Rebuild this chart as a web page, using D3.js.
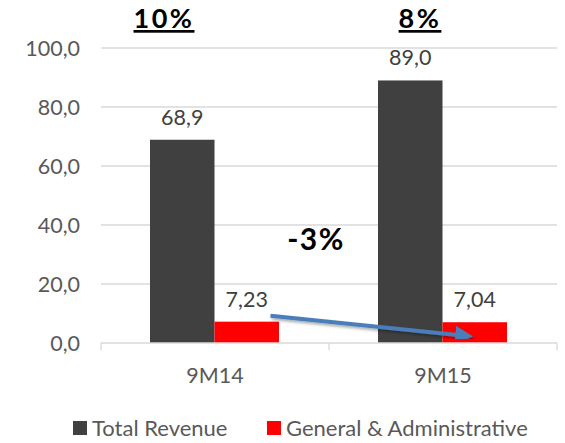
<!DOCTYPE html>
<html>
<head>
<meta charset="utf-8">
<script src="https://cdn.jsdelivr.net/npm/d3@7"></script>
<style>
  body { margin: 0; background: #fff; }
  svg { font-family: Lato, "Open Sans", sans-serif; }
</style>
</head>
<body>
<svg id="chart" width="565" height="443"></svg>
<script>
// data
categories = ["9M14", "9M15"]
seriesNames = ["Total Revenue", "General & Administrative"]
seriesColors = ["#404040", "#ff0000"]
totalRevenue = [68.9, 89.0]
generalAdmin = [7.23, 7.04]
revenueLabels = ["68,9", "89,0"]
gaLabels = ["7,23", "7,04"]
ratioLabels = ["10%", "8%"]
changeLabel = "-3%"
yTicks = [0, 20, 40, 60, 80, 100]

svg = d3.select("#chart")

const y = d3.scaleLinear().domain([0, 100]).range([343, 48])
const x0 = d3.scaleBand().domain(categories).range([101, 557]).padding(0)
const x1 = d3.scaleBand().domain(seriesNames).range([49, 178]).padding(0)

rows = categories.map((c, i) => ({
  cat: c,
  values: [
    {name: seriesNames[0], value: totalRevenue[i], label: revenueLabels[i]},
    {name: seriesNames[1], value: generalAdmin[i], label: gaLabels[i]}
  ]
}))

// gridlines
svg.append("g")
  .selectAll("line")
  .data(yTicks.filter(d => d > 0))
  .join("line")
  .attr("x1", 101).attr("x2", 557)
  .attr("y1", d => y(d)).attr("y2", d => y(d))
  .attr("stroke", "#d9d9d9").attr("stroke-width", 1.3)

// y tick labels
svg.append("g")
  .selectAll("text")
  .data(yTicks)
  .join("text")
  .attr("x", 80)
  .attr("y", d => y(d) + 7.5)
  .attr("text-anchor", "end")
  .attr("font-size", 21.5)
  .attr("fill", "#595959")
  .text(d => d3.format(".1f")(d).replace(".", ","))

// bars
groups = svg.append("g")
  .selectAll("g")
  .data(rows)
  .join("g")
  .attr("transform", d => `translate(${x0(d.cat)},0)`)

groups.selectAll("rect")
  .data(d => d.values)
  .join("rect")
  .attr("x", d => x1(d.name))
  .attr("width", x1.bandwidth())
  .attr("y", d => y(d.value))
  .attr("height", d => y(0) - y(d.value))
  .attr("fill", (d, i) => seriesColors[i])

groups.selectAll("text.val")
  .data(d => d.values)
  .join("text")
  .attr("class", "val")
  .attr("x", d => x1(d.name) + x1.bandwidth() / 2)
  .attr("y", d => y(d.value) - 15)
  .attr("text-anchor", "middle")
  .attr("font-size", 21.5)
  .attr("fill", "#404040")
  .text(d => d.label)

// x axis
svg.append("line")
  .attr("x1", 101).attr("x2", 557)
  .attr("y1", y(0)).attr("y2", y(0))
  .attr("stroke", "#d9d9d9").attr("stroke-width", 1.3)

svg.append("g")
  .selectAll("line")
  .data([101, 329, 557])
  .join("line")
  .attr("x1", d => d).attr("x2", d => d)
  .attr("y1", y(0)).attr("y2", y(0) + 7)
  .attr("stroke", "#d9d9d9").attr("stroke-width", 1.3)

svg.append("g")
  .selectAll("text")
  .data(categories)
  .join("text")
  .attr("x", d => x0(d) + x0.bandwidth() / 2)
  .attr("y", 383)
  .attr("text-anchor", "middle")
  .attr("font-size", 21.5)
  .attr("fill", "#595959")
  .text(d => d)

// ratio labels on top
ratioOffsets = [-51, -23]
svg.append("g")
  .selectAll("text")
  .data(ratioLabels)
  .join("text")
  .attr("x", (d, i) => x0(categories[i]) + x0.bandwidth() / 2 + ratioOffsets[i])
  .attr("y", 28)
  .attr("text-anchor", "middle")
  .attr("font-size", 27)
  .attr("font-weight", "bold")
  .attr("letter-spacing", 2.5)
  .attr("text-decoration", "underline")
  .attr("fill", "#000")
  .text(d => d)

// change label and arrow
svg.append("text")
  .attr("x", 316).attr("y", 250)
  .attr("text-anchor", "middle")
  .attr("font-size", 30)
  .attr("font-weight", "bold")
  .attr("letter-spacing", 1.5)
  .attr("fill", "#000")
  .text(changeLabel)

defs = svg.append("defs")
defs.append("marker")
  .attr("id", "head")
  .attr("viewBox", "0 0 10 10")
  .attr("refX", 8).attr("refY", 5)
  .attr("markerWidth", 4.5).attr("markerHeight", 4.5)
  .attr("orient", "auto")
  .append("path")
  .attr("d", "M0,0 L10,5 L0,10 z")
  .attr("fill", "#4a7ebb")
defs.append("filter").attr("id", "shadow")
  .append("feDropShadow")
  .attr("dx", 1.5).attr("dy", 2).attr("stdDeviation", 1.5)
  .attr("flood-color", "#000").attr("flood-opacity", 0.35)

svg.append("line")
  .attr("x1", x0(categories[0]) + x1(seriesNames[1]) + 56)
  .attr("y1", y(generalAdmin[0]) - 6)
  .attr("x2", x0(categories[1]) + x1(seriesNames[1]) + 27)
  .attr("y2", y(generalAdmin[1]) + 14)
  .attr("stroke", "#4a7ebb")
  .attr("stroke-width", 4)
  .attr("marker-end", "url(#head)")
  .attr("filter", "url(#shadow)")

// legend
legend = svg.append("g")
  .selectAll("g")
  .data(seriesNames)
  .join("g")
  .attr("transform", (d, i) => `translate(${[73, 267][i]},421)`)

legend.append("rect")
  .attr("width", 14).attr("height", 14)
  .attr("fill", (d, i) => seriesColors[i])

legend.append("text")
  .attr("x", 19).attr("y", 14.5)
  .attr("font-size", 22)
  .attr("fill", "#595959")
  .text(d => d)
</script>
</body>
</html>
